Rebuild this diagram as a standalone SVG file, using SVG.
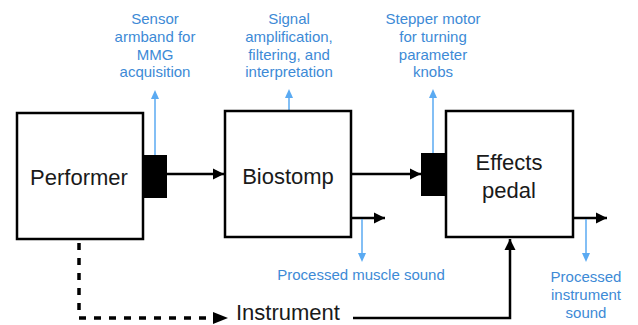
<svg xmlns="http://www.w3.org/2000/svg" width="638" height="325" viewBox="0 0 638 325">
<style>
.box{fill:#fff;stroke:#000;stroke-width:2.5}
.blk{fill:#000}
.main{font-family:"Liberation Sans",Arial,sans-serif;font-size:22px;fill:#1a1a1a;text-anchor:middle}
.lbl{font-family:"Liberation Sans",Arial,sans-serif;font-size:15px;fill:#3d8ad6;text-anchor:middle}
.k{stroke:#000;stroke-width:2.5;fill:none}
.kd{stroke:#000;stroke-width:3.5;fill:none;stroke-dasharray:7 8}
.b{stroke:#5aaaf2;stroke-width:1.5;fill:none}
</style>
<defs>
<marker id="ak" markerUnits="userSpaceOnUse" markerWidth="12" markerHeight="12" refX="11" refY="6" orient="auto">
<path d="M0,0.5 L11,6 L0,11.5 Z" fill="#000"/>
</marker>
</defs>
<g id="connectors">
<line class="k" x1="167" y1="174" x2="224" y2="174" marker-end="url(#ak)"/>
<line class="k" x1="351" y1="174" x2="421" y2="174" marker-end="url(#ak)"/>
<line class="k" x1="351" y1="218" x2="385" y2="218" marker-end="url(#ak)"/>
<line class="k" x1="573" y1="218" x2="607" y2="218" marker-end="url(#ak)"/>
<polyline class="k" points="353,318 510,318 510,239" marker-end="url(#ak)"/>
<polyline class="kd" points="79,243 79,318 213,318"/>
<path d="M213,312 L228,318 L213,324 Z" fill="#000"/>
<line class="b" x1="155" y1="155" x2="155" y2="98"/>
<path d="M151,99 L155,90 L159,99 Z" fill="#5aaaf2"/>
<line class="b" x1="289" y1="111" x2="289" y2="97"/>
<path d="M285,98 L289,89 L293,98 Z" fill="#5aaaf2"/>
<line class="b" x1="433" y1="153" x2="433" y2="97"/>
<path d="M429,98 L433,89 L437,98 Z" fill="#5aaaf2"/>
<line class="b" x1="362" y1="219" x2="362" y2="254"/>
<path d="M358,253 L362,262 L366,253 Z" fill="#5aaaf2"/>
<line class="b" x1="586" y1="219" x2="586" y2="254"/>
<path d="M582,253 L586,262 L590,253 Z" fill="#5aaaf2"/>
</g>
<g id="performer">
<rect class="box" x="17" y="113" width="126" height="126"/>
<text class="main" x="79" y="185">Performer</text>
</g>
<g id="sensor">
<rect class="blk" x="143" y="155" width="24" height="43"/>
</g>
<g id="biostomp">
<rect class="box" x="225" y="111" width="126" height="126"/>
<text class="main" x="288" y="184">Biostomp</text>
</g>
<g id="stepper">
<rect class="blk" x="421" y="153" width="25" height="43"/>
</g>
<g id="effects">
<rect class="box" x="446" y="111" width="127" height="126"/>
<text class="main" x="509" y="170">Effects</text>
<text class="main" x="509" y="198">pedal</text>
</g>
<g id="instrument">
<text class="main" x="236" y="320" style="text-anchor:start">Instrument</text>
</g>
<g id="labels">
<text class="lbl" x="155" y="24">Sensor</text>
<text class="lbl" x="155" y="42">armband for</text>
<text class="lbl" x="155" y="60">MMG</text>
<text class="lbl" x="155" y="77">acquisition</text>
<text class="lbl" x="289" y="24">Signal</text>
<text class="lbl" x="289" y="42">amplification,</text>
<text class="lbl" x="289" y="60">filtering, and</text>
<text class="lbl" x="289" y="77">interpretation</text>
<text class="lbl" x="433" y="24">Stepper motor</text>
<text class="lbl" x="433" y="42">for turning</text>
<text class="lbl" x="433" y="60">parameter</text>
<text class="lbl" x="433" y="77">knobs</text>
<text class="lbl" x="361" y="280">Processed muscle sound</text>
<text class="lbl" x="586" y="282">Processed</text>
<text class="lbl" x="586" y="300">instrument</text>
<text class="lbl" x="586" y="318">sound</text>
</g>
</svg>
